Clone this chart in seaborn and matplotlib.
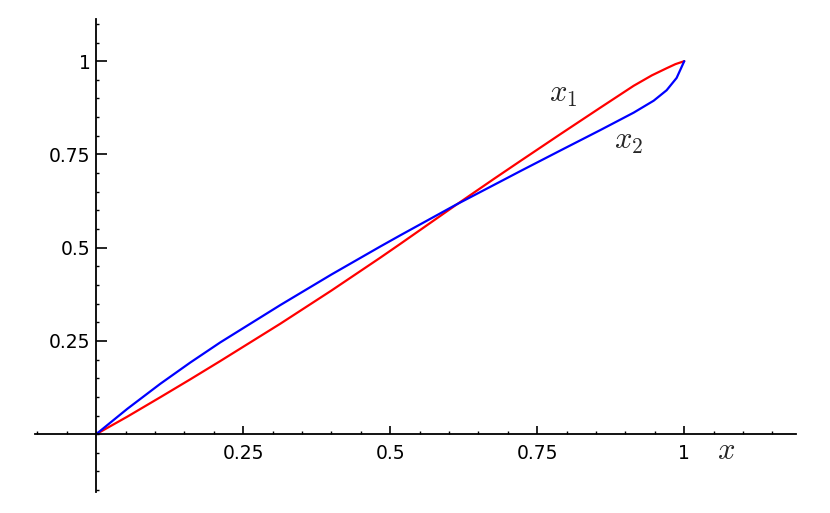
import matplotlib

matplotlib.use("Agg")
import matplotlib.pyplot as plt
import numpy as np
import pandas as pd
import seaborn as sns
from matplotlib.ticker import MultipleLocator

# values
x1_t = [0, 0.053, 0.109, 0.16, 0.211, 0.313, 0.40, 0.483, 0.517, 0.6105, 0.676, 0.721,
        0.79, 0.857, 0.914, 0.945, 0.97, 0.985, 1.0]
x1_v = [0, 0.047, 0.099, 0.147, 0.196, 0.296, 0.385, 0.473, 0.510, 0.613, 0.684, 0.732,
        0.805, 0.875, 0.934, 0.962, 0.981, 0.992, 1.0]

x2_t = [0, 0.053, 0.109, 0.16, 0.211, 0.313, 0.40, 0.483, 0.517, 0.6105, 0.698, 0.721,
        0.79, 0.857, 0.874, 0.914, 0.948, 0.97, 0.987, 1.0]
x2_v = [0, 0.068, 0.135, 0.192, 0.246, 0.346, 0.428, 0.503, 0.533, 0.614, 0.686, 0.705,
        0.761, 0.815, 0.829, 0.862, 0.894, 0.922, 0.955, 1.0]

major_ticks = [0.25, 0.5, 0.75, 1]
major_labels = ["0.25", "0.5", "0.75", "1"]

sns.set_style("white")
plt.rcParams["font.family"] = ["DejaVu Sans"]
plt.rcParams["mathtext.fontset"] = "cm"

fig = plt.figure(figsize=(8.3, 5.13), dpi=100)
ax = fig.add_axes([35 / 830, 1 - 492 / 513, (796 - 35) / 830, (492 - 19) / 513])

d1 = pd.DataFrame({"x": x1_t, "y": x1_v})
d2 = pd.DataFrame({"x": x2_t, "y": x2_v})
sns.lineplot(data=d1, x="x", y="y", color="red", lw=1.6, sort=False, ax=ax)
sns.lineplot(data=d2, x="x", y="y", color="blue", lw=1.6, sort=False, ax=ax)

ax.set_xlim(-0.104, 1.19)
ax.set_ylim(-0.155, 1.113)
ax.set_xlabel("")
ax.set_ylabel("")

for s in ["top", "right"]:
    ax.spines[s].set_visible(False)
for s in ["left", "bottom"]:
    ax.spines[s].set_position(("data", 0))
    ax.spines[s].set_linewidth(1.3)
    ax.spines[s].set_color("black")

ax.set_xticks(major_ticks, major_labels)
ax.set_yticks(major_ticks, major_labels)
ax.xaxis.set_minor_locator(MultipleLocator(0.05))
ax.yaxis.set_minor_locator(MultipleLocator(0.05))
ax.tick_params(axis="x", which="major", direction="in", length=6, width=1.2, pad=7,
               labelsize=13.5, bottom=True, colors="black")
ax.tick_params(axis="y", which="major", direction="in", length=8, width=1.2, pad=4,
               labelsize=13.5, left=True, colors="black")
ax.tick_params(which="minor", direction="in", length=2.5, width=1.0, bottom=True, left=True,
               colors="black")

ax.text(0.794, 0.91, "$x_1$", fontsize=22, ha="center", va="center")
ax.text(0.905, 0.785, "$x_2$", fontsize=22, ha="center", va="center")
ax.text(1.071, -0.043, "$x$", fontsize=22, ha="center", va="center")

fig.savefig("out.png", dpi=100)
